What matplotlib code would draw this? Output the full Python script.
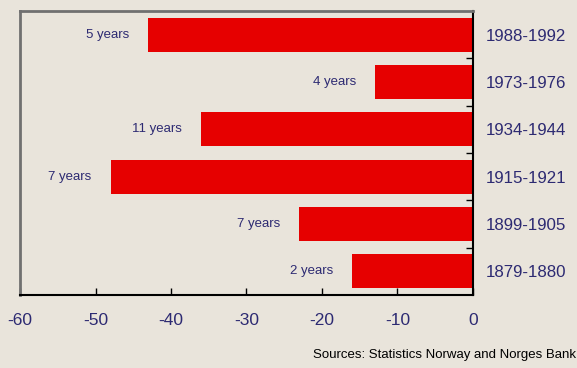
import matplotlib.pyplot as plt
import numpy as np

plt.rcParams['font.family'] = ['Liberation Sans', 'DejaVu Sans']
plt.rcParams['axes.unicode_minus'] = False

# Periods listed from top to bottom, with fall and duration
periods = ['1988-1992', '1973-1976', '1934-1944', '1915-1921', '1899-1905', '1879-1880']
change = [-43, -13, -36, -48, -23, -16]
durations = ['5 years', '4 years', '11 years', '7 years', '7 years', '2 years']

bg = '#E9E4DB'
navy = '#2D2A72'
red = '#E60000'

fig = plt.figure(figsize=(5.77, 3.68), dpi=100, facecolor=bg)
ax = fig.add_axes([0.0347, 0.1984, 0.785, 0.7716], facecolor=bg)

y = np.arange(len(periods))[::-1]
ax.barh(y, change, height=0.72, color=red, zorder=2)

for yi, v, d in zip(y, change, durations):
    ax.text(v - 2.5, yi, d, ha='right', va='center', fontsize=9.5, color=navy)

ax.set_xlim(-60, 0)
ax.set_ylim(-0.5, len(periods) - 0.5)
ax.set_xticks(np.arange(-60, 1, 10))
ax.tick_params(axis='x', direction='in', length=5, width=1, colors='black',
               labelcolor=navy, labelsize=12.5, pad=13)

ax.yaxis.tick_right()
ax.set_yticks(y)
ax.set_yticklabels(periods)
ax.tick_params(axis='y', which='major', length=0, labelsize=12.2, labelcolor=navy, pad=9)
ax.set_yticks(np.arange(0.5, len(periods) - 1, 1), minor=True)
ax.tick_params(axis='y', which='minor', direction='in', length=5, width=1, colors='black')

ax.spines['left'].set_color('#707070')
ax.spines['left'].set_linewidth(2)
ax.spines['top'].set_color('#707070')
ax.spines['top'].set_linewidth(2)
ax.spines['bottom'].set_color('black')
ax.spines['right'].set_color('black')
ax.spines['bottom'].set_linewidth(1.5)
ax.spines['right'].set_linewidth(1.5)

fig.text(0.998, 0.02, 'Sources: Statistics Norway and Norges Bank',
         ha='right', va='bottom', fontsize=9.5, color='black')

fig.savefig('out.png', dpi=100, facecolor=bg)
